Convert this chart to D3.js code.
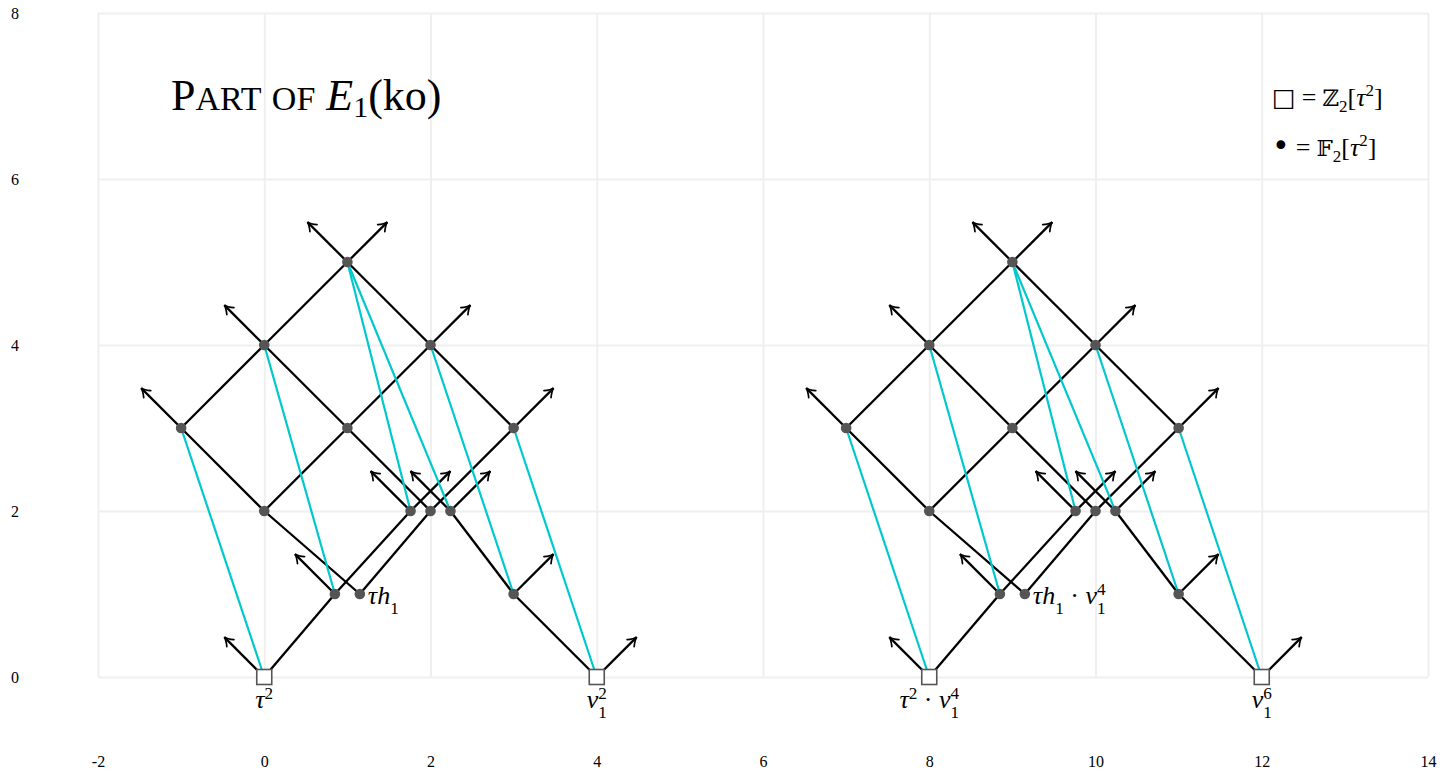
<!DOCTYPE html>
<html>
<head>
<meta charset="utf-8">
<title>Part of E1(ko)</title>
<script src="https://d3js.org/d3.v7.min.js"></script>
<style>
  body { margin: 0; background: #fff; }
</style>
</head>
<body>
<script>
// chart data (one copy of the pattern, repeated by v1^4 shift)
const xTicks = [-2, 0, 2, 4, 6, 8, 10, 12, 14];
const yTicks = [0, 2, 4, 6, 8];
const copyShift = [0, 8];

const squares = [[0, 0], [4, 0]];
const dots = [[0.85, 1], [1.15, 1], [3, 1], [0, 2], [1.76, 2], [2, 2], [2.24, 2],
              [-1, 3], [1, 3], [3, 3], [0, 4], [2, 4], [1, 5]];

const blackLines = [
  [[0, 0], [0.85, 1]], [[0.85, 1], [1.76, 2]], [[1.15, 1], [2, 2]],
  [[0, 2], [1.15, 1]], [[0, 2], [-1, 3]], [[0, 2], [1, 3]],
  [[-1, 3], [0, 4]], [[0, 4], [1, 5]], [[0, 4], [1, 3]],
  [[1, 3], [2, 4]], [[1, 3], [2, 2]], [[1, 5], [2, 4]],
  [[2, 4], [3, 3]], [[2, 2], [3, 3]], [[2.24, 2], [3, 1]], [[3, 1], [4, 0]]
];
const cyanLines = [
  [[-1, 3], [0, 0]], [[0, 4], [0.85, 1]], [[1, 5], [1.76, 2]],
  [[1, 5], [2.24, 2]], [[2, 4], [3, 1]], [[3, 3], [4, 0]]
];
const arrowsUpLeft = [[0, 0], [0.85, 1], [1.76, 2], [2.24, 2], [-1, 3], [0, 4], [1, 5]];
const arrowsUpRight = [[4, 0], [3, 1], [1.76, 2], [2.24, 2], [3, 3], [2, 4], [1, 5]];

const labelX = [0, 4, 1.15, 8, 12, 9.15];
const labelY = [0, 0, 1, 0, 0, 1];
const labelText = ["τ^2", "v_1^2", "τh_1", "τ^2 · v_1^4", "v_1^6", "τh_1 · v_1^4"];
const labelSide = ["below", "below", "right", "below", "below", "right"];

const W = 1443, H = 776;
const serif = "'Liberation Serif', 'DejaVu Serif', serif";

const svg = d3.select("body").append("svg")
  .attr("width", W).attr("height", H);

const x = d3.scaleLinear().domain([-2, 14]).range([98, 1428]);
const y = d3.scaleLinear().domain([0, 8]).range([677, 13]);

// grid
const gx = svg.append("g").attr("transform", "translate(0," + y(0) + ")")
  .call(d3.axisBottom(x).tickValues(xTicks).tickSize(-(y(0) - y(8))).tickFormat(""));
const gy = svg.append("g").attr("transform", "translate(" + x(-2) + ",0)")
  .call(d3.axisLeft(y).tickValues(yTicks).tickSize(-(x(14) - x(-2))).tickFormat(""));
[gx, gy].forEach(g => {
  g.select(".domain").remove();
  g.selectAll(".tick line").attr("stroke", "#efefef").attr("stroke-width", 2);
});

// tick labels
const lx = svg.append("g").attr("transform", "translate(0," + y(0) + ")")
  .call(d3.axisBottom(x).tickValues(xTicks).tickSize(0).tickPadding(79).tickFormat(d => String(d)));
const ly = svg.append("g").attr("transform", "translate(" + x(-2) + ",0)")
  .call(d3.axisLeft(y).tickValues(yTicks).tickSize(0).tickPadding(79).tickFormat(d => String(d)));
[lx, ly].forEach(g => {
  g.select(".domain").remove();
  g.attr("font-family", serif).attr("font-size", 16);
  g.selectAll("text").attr("fill", "#000");
});
ly.selectAll("text").attr("text-anchor", "middle").attr("x", -(x(-2) - 15));

// arrow head
svg.append("defs").append("marker")
  .attr("id", "tip").attr("viewBox", "-12 -8 14 16")
  .attr("refX", 0).attr("refY", 0)
  .attr("markerWidth", 14).attr("markerHeight", 16)
  .attr("markerUnits", "userSpaceOnUse").attr("orient", "auto")
  .append("path")
  .attr("d", "M-8.5,-5 Q-3.5,-0.9 0,0 Q-3.5,0.9 -8.5,5")
  .attr("fill", "none").attr("stroke", "#000").attr("stroke-width", 1.7)
  .attr("stroke-linecap", "round");

const plot = svg.append("g");
const arrowLen = 0.48;

copyShift.forEach(s => {
  plot.selectAll(null).data(blackLines).enter().append("line")
    .attr("x1", d => x(d[0][0] + s)).attr("y1", d => y(d[0][1]))
    .attr("x2", d => x(d[1][0] + s)).attr("y2", d => y(d[1][1]))
    .attr("stroke", "#000").attr("stroke-width", 2.3);

  const arrows = arrowsUpLeft.map(p => [p, -1]).concat(arrowsUpRight.map(p => [p, 1]));
  plot.selectAll(null).data(arrows).enter().append("line")
    .attr("x1", d => x(d[0][0] + s)).attr("y1", d => y(d[0][1]))
    .attr("x2", d => x(d[0][0] + s + d[1] * arrowLen)).attr("y2", d => y(d[0][1] + arrowLen))
    .attr("stroke", "#000").attr("stroke-width", 2.3)
    .attr("marker-end", "url(#tip)");
});

copyShift.forEach(s => {
  plot.selectAll(null).data(cyanLines).enter().append("line")
    .attr("x1", d => x(d[0][0] + s)).attr("y1", d => y(d[0][1]))
    .attr("x2", d => x(d[1][0] + s)).attr("y2", d => y(d[1][1]))
    .attr("stroke", "#00c8cc").attr("stroke-width", 2.2);
});

copyShift.forEach(s => {
  plot.selectAll(null).data(dots).enter().append("circle")
    .attr("cx", d => x(d[0] + s)).attr("cy", d => y(d[1]))
    .attr("r", 5.3).attr("fill", "#555");
  plot.selectAll(null).data(squares).enter().append("rect")
    .attr("x", d => x(d[0] + s) - 7.5).attr("y", d => y(d[1]) - 7.5)
    .attr("width", 15).attr("height", 15)
    .attr("fill", "#fff").attr("stroke", "#555").attr("stroke-width", 1.6);
});

// math-ish text: letters italic, digits roman, ^x / _x scripts
function mathText(sel, str, size) {
  const small = size * 0.66;
  const supUp = size * 0.36, subDown = size * 0.4;
  let i = 0, shift = 0;
  while (i < str.length) {
    const c = str[i];
    if ((c === "_" || c === "^") && i + 1 < str.length) {
      let sub = null, sup = null;
      while ((str[i] === "_" || str[i] === "^") && i + 1 < str.length) {
        if (str[i] === "_") sub = str[i + 1]; else sup = str[i + 1];
        i += 2;
      }
      if (sup !== null) {
        sel.append("tspan").attr("font-size", small).attr("font-style", "normal")
          .attr("dy", -supUp - shift).text(sup);
        shift = -supUp;
      }
      if (sub !== null) {
        const t = sel.append("tspan").attr("font-size", small).attr("font-style", "normal")
          .attr("dy", subDown - shift).text(sub);
        if (sup !== null) t.attr("dx", -small * 0.5);
        shift = subDown;
      }
      continue;
    }
    const t = sel.append("tspan").attr("font-size", size)
      .attr("font-style", /[A-Za-zτ]/.test(c) ? "italic" : "normal")
      .text(c === " " ? "\u00a0" : c);
    if (shift !== 0) { t.attr("dy", -shift); shift = 0; }
    i++;
  }
}

labelText.forEach((txt, i) => {
  const t = svg.append("text").attr("font-family", serif).attr("fill", "#000");
  if (labelSide[i] === "below") {
    t.attr("x", x(labelX[i])).attr("y", y(labelY[i]) + 31).attr("text-anchor", "middle");
  } else {
    t.attr("x", x(labelX[i]) + 8).attr("y", y(labelY[i]) + 10).attr("text-anchor", "start");
  }
  mathText(t, txt, 26);
});

// title
const title = svg.append("text").attr("x", 171).attr("y", 110)
  .attr("font-family", serif).attr("fill", "#000");
title.append("tspan").attr("font-size", 44).text("P");
title.append("tspan").attr("font-size", 34).text("ART");
title.append("tspan").attr("font-size", 34).attr("dx", 11).text("OF");
title.append("tspan").attr("font-size", 44).attr("font-style", "italic").attr("dx", 11).text("E");
title.append("tspan").attr("font-size", 30).attr("dy", 7).text("1");
title.append("tspan").attr("font-size", 44).attr("dy", -7).text("(ko)");

// legend
const legSym = ["□", "•"];
const legRing = ["ℤ", "𝔽"];
const legY = [106, 156];
legSym.forEach((sym, i) => {
  const t = svg.append("text").attr("x", 1272).attr("y", legY[i])
    .attr("font-family", serif).attr("font-size", 26).attr("fill", "#000");
  t.append("tspan").attr("font-family", "'DejaVu Sans', sans-serif")
    .attr("font-size", i === 0 ? 25 : 30).text(sym);
  t.append("tspan").attr("dx", 6).text("=");
  t.append("tspan").attr("dx", 6).attr("font-family", "'DejaVu Serif', 'DejaVu Sans', serif")
    .attr("font-size", 23).text(legRing[i]);
  t.append("tspan").attr("font-size", 17).attr("dy", 6).text("2");
  t.append("tspan").attr("dy", -6).text("[");
  t.append("tspan").attr("font-style", "italic").text("τ");
  t.append("tspan").attr("font-size", 17).attr("dy", -10).text("2");
  t.append("tspan").attr("dy", 10).text("]");
});
</script>
</body>
</html>
